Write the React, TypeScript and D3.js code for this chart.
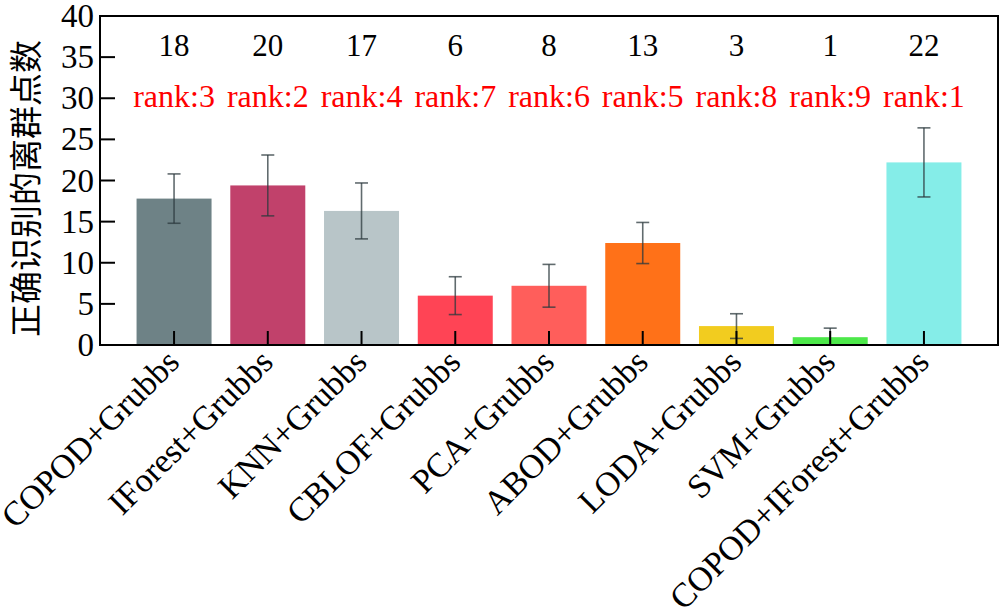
import React from "react";
import * as d3 from "d3";

const categories = [
  "COPOD+Grubbs",
  "IForest+Grubbs",
  "KNN+Grubbs",
  "CBLOF+Grubbs",
  "PCA+Grubbs",
  "ABOD+Grubbs",
  "LODA+Grubbs",
  "SVM+Grubbs",
  "COPOD+IForest+Grubbs",
];
const means = [17.8, 19.4, 16.3, 6.0, 7.2, 12.4, 2.3, 0.95, 22.2];
const errors = [3.0, 3.7, 3.4, 2.3, 2.6, 2.5, 1.5, 1.1, 4.2];
const counts = ["18", "20", "17", "6", "8", "13", "3", "1", "22"];
const ranks = ["rank:3", "rank:2", "rank:4", "rank:7", "rank:6", "rank:5", "rank:8", "rank:9", "rank:1"];
const colors = ["#6e8286", "#c1416b", "#b8c5c8", "#ff4455", "#ff5e5b", "#ff7118", "#f2cc1f", "#4de84a", "#85ede8"];
const yTicks = [0, 5, 10, 15, 20, 25, 30, 35, 40];
const yTitle = "正确识别的离群点数";

const W = 1003;
const H = 614;
const left = 100;
const right = 998;
const top = 16;
const bottom = 345;
const serif = "Liberation Serif";

export default function App() {
  const x = d3.scaleBand<string>().domain(categories).range([left, right]).paddingInner(0.2).paddingOuter(0.39);
  const y = d3.scaleLinear().domain([0, 40]).range([bottom, top]);
  const bw = x.bandwidth();
  const serifStyle = { fontFamily: serif };
  return (
    <svg width={W} height={H} style={{ position: "absolute", left: 0, top: 0, background: "#fff" }}>
      <defs>
        <clipPath id="plotclip">
          <rect x={left} y={top} width={right - left} height={bottom - top} />
        </clipPath>
      </defs>
      {categories.map((c, i) => (
        <rect key={c} x={x(c)!} y={y(means[i])} width={bw} height={bottom - y(means[i])} fill={colors[i]} />
      ))}
      <g clipPath="url(#plotclip)">
        {categories.map((c, i) => {
          const cx = x(c)! + bw / 2;
          const y1 = y(means[i] + errors[i]);
          const y2 = y(means[i] - errors[i]);
          return (
            <g key={c} stroke="#2c3a3e" strokeOpacity={0.75} strokeWidth={1.6}>
              <line x1={cx} x2={cx} y1={y1} y2={y2} />
              <line x1={cx - 6.5} x2={cx + 6.5} y1={y1} y2={y1} />
              <line x1={cx - 6.5} x2={cx + 6.5} y1={y2} y2={y2} />
            </g>
          );
        })}
      </g>
      <rect x={left} y={top} width={right - left} height={bottom - top} fill="none" stroke="#000" strokeWidth={2} />
      {yTicks.map((t) => (
        <g key={t}>
          {t > 0 && t < 40 && <line x1={left} x2={left + 15} y1={y(t)} y2={y(t)} stroke="#000" strokeWidth={2} />}
          <text x={left - 6} y={y(t) + 11} textAnchor="end" style={serifStyle} fontSize={33} fill="#000">
            {t}
          </text>
        </g>
      ))}
      {categories.map((c, i) => {
        const cx = x(c)! + bw / 2;
        return (
          <g key={c}>
            <line x1={cx} x2={cx} y1={bottom} y2={bottom - 14} stroke="#000" strokeWidth={2} />
            <text
              transform={`translate(${cx + 7},${bottom + 19}) rotate(-45)`}
              textAnchor="end"
              style={serifStyle}
              fontSize={34}
              fill="#000"
            >
              {c}
            </text>
            <text x={cx} y={56} textAnchor="middle" style={serifStyle} fontSize={31} fill="#000">
              {counts[i]}
            </text>
            <text x={cx} y={107} textAnchor="middle" style={serifStyle} fontSize={32} fill="#ff0000">
              {ranks[i]}
            </text>
          </g>
        );
      })}
      <text
        transform={`translate(38,${(top + bottom) / 2 + 8}) rotate(-90)`}
        textAnchor="middle"
        style={{ fontFamily: "Noto Sans CJK SC" }}
        fontSize={33}
        fill="#000"
      >
        {yTitle}
      </text>
    </svg>
  );
}
